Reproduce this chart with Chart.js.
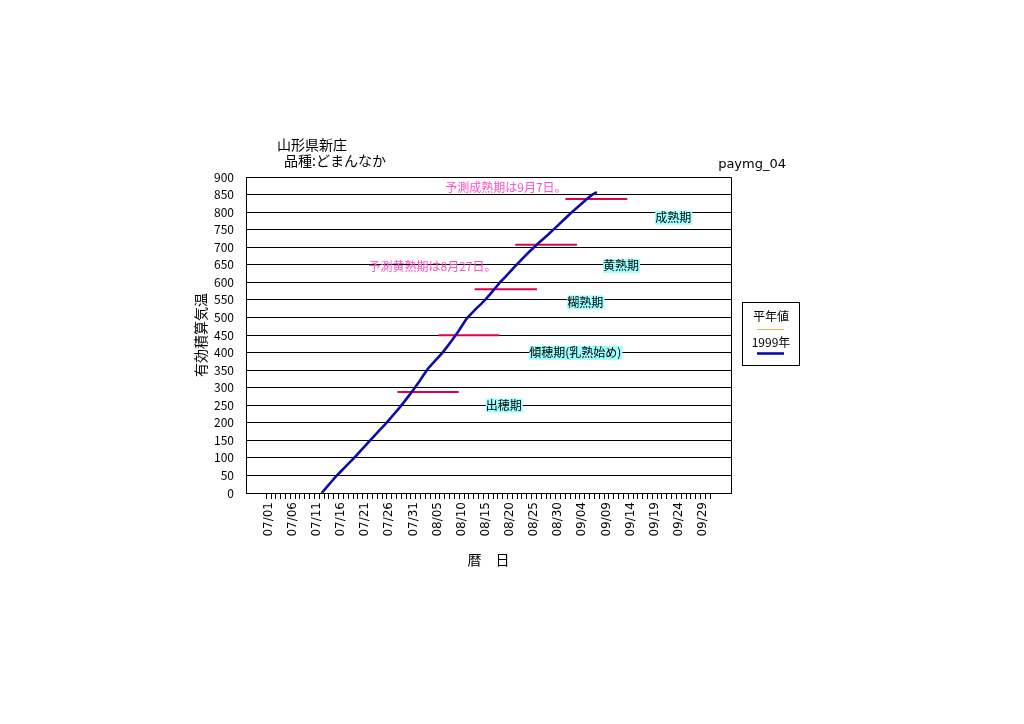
<!DOCTYPE html>
<html>
<head>
<meta charset="utf-8">
<script src="https://cdn.jsdelivr.net/npm/chart.js@4/dist/chart.umd.min.js"></script>
<style>
  html, body { margin: 0; padding: 0; background: #fff; }
  canvas { display: block; }
</style>
</head>
<body>
<canvas id="chart" width="1024" height="724"></canvas>
<script>
var fontName = '"Noto Sans CJK JP", "Noto Sans", sans-serif';

// x axis = day number counted from 07/01 (0) to 09/30 (91)
var allDays = [];
for (var d = 0; d <= 91; d++) allDays.push(d);
var labelDays = [0, 5, 10, 15, 20, 25, 30, 35, 40, 45, 50, 55, 60, 65, 70, 75, 80, 85, 90];
var labelTexts = ['07/01', '07/06', '07/11', '07/16', '07/21', '07/26', '07/31', '08/05', '08/10', '08/15',
                  '08/20', '08/25', '08/30', '09/04', '09/09', '09/14', '09/19', '09/24', '09/29'];

// 1999年 effective accumulated temperature, one value per day starting 07/12
var firstDay = 11;
var heat1999 = [0, 16, 32, 48, 62, 76, 90, 104, 119, 134,
                149, 164, 179, 193, 209, 225, 241, 258, 276, 294,
                313, 334, 354, 369, 384, 399, 417, 435, 454, 475,
                496, 511, 525, 538, 552, 568, 584, 601, 615, 630,
                645, 659, 673, 687, 700, 713, 725, 737, 750, 763,
                776, 789, 802, 814, 826, 838, 849, 857];
// 平年値 (no values shown in this chart)
var heatNormal = [];

// growth stage markers (red bars)
var stageHeat = [288, 449, 580, 707, 837];
var stageFrom = [26.7, 35.2, 42.7, 51.1, 61.5];
var stageTo   = [39.4, 47.8, 55.6, 63.9, 74.3];

// stage name labels (cyan boxes)
var stageLabels    = ['出穂期', '傾穂期(乳熟始め)', '糊熟期', '黄熟期', '成熟期'];
var stageLabelDay  = [45.0, 54.0, 61.9, 69.3, 80.1];
var stageLabelHeat = [249, 399, 543, 647, 784];

// forecast notes (pink)
var forecastTexts = ['予測成熟期は9月7日。', '予測黄熟期は8月27日。'];
var forecastDay   = [36.6, 20.7];
var forecastHeat  = [871, 645];

var seriesPoints = heat1999.map(function (v, i) { return { x: firstDay + i, y: v }; });

var datasets = [
  { label: '平年値', data: heatNormal, borderColor: '#f4b050', borderWidth: 1 },
  { label: '1999年', data: seriesPoints, borderColor: '#0c0ca8', borderWidth: 2.6 }
];
for (var s = 0; s < stageHeat.length; s++) {
  datasets.push({
    label: 'stage' + s,
    data: [{ x: stageFrom[s], y: stageHeat[s] }, { x: stageTo[s], y: stageHeat[s] }],
    borderColor: '#e0004c',
    borderWidth: 2
  });
}

// texts, frame and legend box
var decorations = {
  id: 'decorations',
  afterDraw: function (chart) {
    var ctx = chart.ctx;
    var area = chart.chartArea;
    var xs = chart.scales.x, ys = chart.scales.y;
    ctx.save();

    // plot frame
    ctx.strokeStyle = '#000';
    ctx.lineWidth = 1;
    ctx.beginPath();
    ctx.moveTo(Math.round(area.left) + 0.5, Math.round(area.top) + 0.5);
    ctx.lineTo(Math.round(area.right) + 0.5, Math.round(area.top) + 0.5);
    ctx.lineTo(Math.round(area.right) + 0.5, Math.round(area.bottom) + 0.5);
    ctx.stroke();

    ctx.textBaseline = 'middle';
    ctx.textAlign = 'left';
    ctx.font = '12px ' + fontName;

    // stage labels
    for (var i = 0; i < stageLabels.length; i++) {
      var px = xs.getPixelForValue(stageLabelDay[i]);
      var py = ys.getPixelForValue(stageLabelHeat[i]);
      var w = ctx.measureText(stageLabels[i]).width;
      ctx.fillStyle = '#a0ffff';
      ctx.fillRect(px, py - 7, w + 1, 14);
      ctx.fillStyle = '#000';
      ctx.fillText(stageLabels[i], px, py);
    }

    // forecast notes
    ctx.fillStyle = '#ff50c8';
    for (var j = 0; j < forecastTexts.length; j++) {
      ctx.fillText(forecastTexts[j], xs.getPixelForValue(forecastDay[j]), ys.getPixelForValue(forecastHeat[j]));
    }

    // titles
    ctx.fillStyle = '#000';
    ctx.font = '14px ' + fontName;
    ctx.fillText('山形県新庄', 277, 145);
    ctx.fillText('品種:どまんなか', 284, 161);
    ctx.textAlign = 'right';
    ctx.font = '13px "DejaVu Sans", sans-serif';
    ctx.fillText('paymg_04', 786, 165);

    // legend box
    ctx.strokeStyle = '#000';
    ctx.lineWidth = 1;
    ctx.strokeRect(742.5, 302.5, 57, 63);
    ctx.textAlign = 'center';
    ctx.font = '12px ' + fontName;
    ctx.fillText(datasets[0].label, 771, 316);
    ctx.fillText(datasets[1].label, 771, 342);
    ctx.strokeStyle = datasets[0].borderColor;
    ctx.lineWidth = 1;
    ctx.beginPath(); ctx.moveTo(757, 329.5); ctx.lineTo(784, 329.5); ctx.stroke();
    ctx.strokeStyle = datasets[1].borderColor;
    ctx.lineWidth = 2.6;
    ctx.beginPath(); ctx.moveTo(757, 353.5); ctx.lineTo(784, 353.5); ctx.stroke();

    ctx.restore();
  }
};

new Chart(document.getElementById('chart').getContext('2d'), {
  type: 'line',
  data: { datasets: datasets },
  plugins: [decorations],
  options: {
    responsive: false,
    animation: false,
    layout: { padding: { left: 180, right: 293, top: 177, bottom: 151 } },
    elements: { point: { radius: 0 }, line: { tension: 0 } },
    plugins: { legend: { display: false }, tooltip: { enabled: false } },
    scales: {
      x: {
        type: 'linear',
        min: -4.68,
        max: 95.8,
        afterBuildTicks: function (scale) {
          scale.ticks = allDays.map(function (v) { return { value: v }; });
        },
        afterFit: function (scale) { scale.height = 80; },
        grid: { offset: true, drawOnChartArea: false, drawTicks: true, tickLength: 6, color: '#000' },
        border: { color: '#000' },
        ticks: {
          autoSkip: false,
          minRotation: 90,
          maxRotation: 90,
          padding: 3,
          color: '#000',
          font: { family: '"DejaVu Sans", sans-serif', size: 12 },
          callback: function (value) {
            var k = labelDays.indexOf(value);
            return k >= 0 ? labelTexts[k] : '';
          }
        },
        title: { display: true, text: '暦　日', color: '#000', font: { family: fontName, size: 14 }, padding: { top: 0, bottom: 5 } }
      },
      y: {
        min: 0,
        max: 900,
        afterFit: function (scale) { scale.width = 66; },
        grid: { color: '#000', drawTicks: false },
        border: { color: '#000' },
        ticks: { stepSize: 50, padding: 12, color: '#000', font: { family: fontName, size: 12 } },
        title: { display: true, text: '有効積算気温', color: '#000', font: { family: fontName, size: 14 }, padding: { top: 12, bottom: 0 } }
      }
    }
  }
});
</script>
</body>
</html>
